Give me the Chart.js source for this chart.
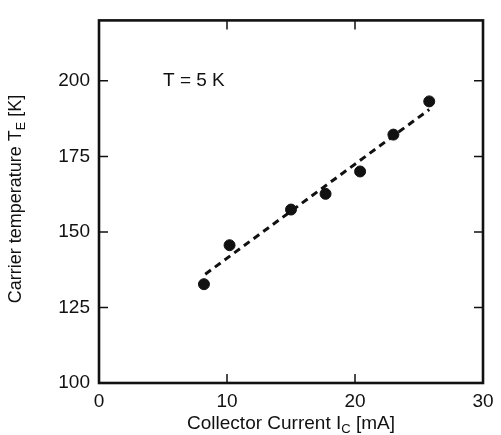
<!DOCTYPE html>
<html>
<head>
<meta charset="utf-8">
<script src="https://cdn.jsdelivr.net/npm/chart.js@4"></script>
<style>
html,body{margin:0;padding:0;background:#fff;}
#wrap{width:501px;height:435px;position:relative;}
</style>
</head>
<body>
<div id="wrap"><canvas id="c" width="501" height="435"></canvas></div>
<script>
// Data
const current = [8.2, 10.2, 15.0, 17.7, 20.4, 23.0, 25.8];          // I_C [mA]
const temperature = [132.7, 145.6, 157.4, 162.6, 170.0, 182.2, 193.2]; // T_E [K]
const fitCurrent = [8.3, 25.8];
const fitTemperature = [136.0, 190.5];
const xTicks = [0, 10, 20, 30];
const yTicks = [100, 125, 150, 175, 200];
const annotationText = 'T = 5 K';
const annotationAt = [5, 200];

const FONT = '"Liberation Sans", Arial, Helvetica, sans-serif';
const FS = 19;
const SUB = 13;
const INK = '#111';

const pts = current.map((x, i) => ({x, y: temperature[i]}));
const fit = fitCurrent.map((x, i) => ({x, y: fitTemperature[i]}));

function drawSubTitle(ctx, parts, cx, by, fs, sub) {
  ctx.font = fs + 'px ' + FONT;
  const w1 = ctx.measureText(parts[0]).width;
  ctx.font = sub + 'px ' + FONT;
  const w2 = ctx.measureText(parts[1]).width;
  ctx.font = fs + 'px ' + FONT;
  const w3 = ctx.measureText(parts[2]).width;
  const sx = cx - (w1 + w2 + w3) / 2;
  ctx.fillText(parts[0], sx, by);
  ctx.font = sub + 'px ' + FONT;
  ctx.fillText(parts[1], sx + w1, by + 4);
  ctx.font = fs + 'px ' + FONT;
  ctx.fillText(parts[2], sx + w1 + w2, by);
}

const framePlugin = {
  id: 'frame',
  afterDatasetsDraw(chart) {
    const {ctx, chartArea: a, scales: {x, y}} = chart;
    ctx.save();
    ctx.strokeStyle = INK;
    ctx.lineWidth = 1.5;
    const L = 9;
    xTicks.forEach(v => {
      if (v <= x.min || v >= x.max) return;
      const px = x.getPixelForValue(v);
      ctx.beginPath();
      ctx.moveTo(px, a.bottom); ctx.lineTo(px, a.bottom - L);
      ctx.moveTo(px, a.top); ctx.lineTo(px, a.top + L);
      ctx.stroke();
    });
    yTicks.forEach(v => {
      if (v <= y.min || v >= y.max) return;
      const py = y.getPixelForValue(v);
      ctx.beginPath();
      ctx.moveTo(a.left, py); ctx.lineTo(a.left + L, py);
      ctx.moveTo(a.right, py); ctx.lineTo(a.right - L, py);
      ctx.stroke();
    });
    ctx.lineWidth = 2.6;
    ctx.strokeRect(a.left, a.top, a.right - a.left, a.bottom - a.top);
    ctx.fillStyle = INK;
    ctx.font = FS + 'px ' + FONT;
    ctx.textBaseline = 'middle';
    ctx.textAlign = 'left';
    ctx.fillText(annotationText, x.getPixelForValue(annotationAt[0]), y.getPixelForValue(annotationAt[1]));
    ctx.textBaseline = 'alphabetic';
    drawSubTitle(ctx, ['Collector Current I', 'C', ' [mA]'], (a.left + a.right) / 2, 429, FS, SUB);
    ctx.translate(21, 199);
    ctx.rotate(-Math.PI / 2);
    drawSubTitle(ctx, ['Carrier temperature T', 'E', ' [K]'], 0, 0, 18, 12.5);
    ctx.restore();
  }
};

new Chart(document.getElementById('c'), {
  type: 'scatter',
  data: {
    datasets: [
      {
        label: 'fit',
        data: fit,
        showLine: true,
        borderColor: INK,
        borderWidth: 3,
        borderDash: [7, 5],
        pointRadius: 0,
        fill: false
      },
      {
        label: 'T_E',
        data: pts,
        pointRadius: 5.5,
        pointBackgroundColor: INK,
        pointBorderColor: INK,
        showLine: false
      }
    ]
  },
  options: {
    responsive: false,
    animation: false,
    devicePixelRatio: 1,
    layout: {padding: {left: 0, right: 18, top: 10, bottom: 0}},
    plugins: {legend: {display: false}, tooltip: {enabled: false}},
    scales: {
      x: {
        type: 'linear', min: 0, max: 30,
        afterBuildTicks(s) { s.ticks = xTicks.map(v => ({value: v})); },
        afterFit(s) { s.height = 52; },
        grid: {display: false, drawTicks: false},
        border: {display: false},
        ticks: {color: INK, font: {family: FONT, size: FS}, padding: 7, maxRotation: 0, autoSkip: false}
      },
      y: {
        type: 'linear', min: 100, max: 220,
        afterBuildTicks(s) { s.ticks = yTicks.map(v => ({value: v})); },
        afterFit(s) { s.width = 99; },
        grid: {display: false, drawTicks: false},
        border: {display: false},
        ticks: {color: INK, font: {family: FONT, size: FS}, padding: 9, autoSkip: false}
      }
    }
  },
  plugins: [framePlugin]
});
</script>
</body>
</html>
